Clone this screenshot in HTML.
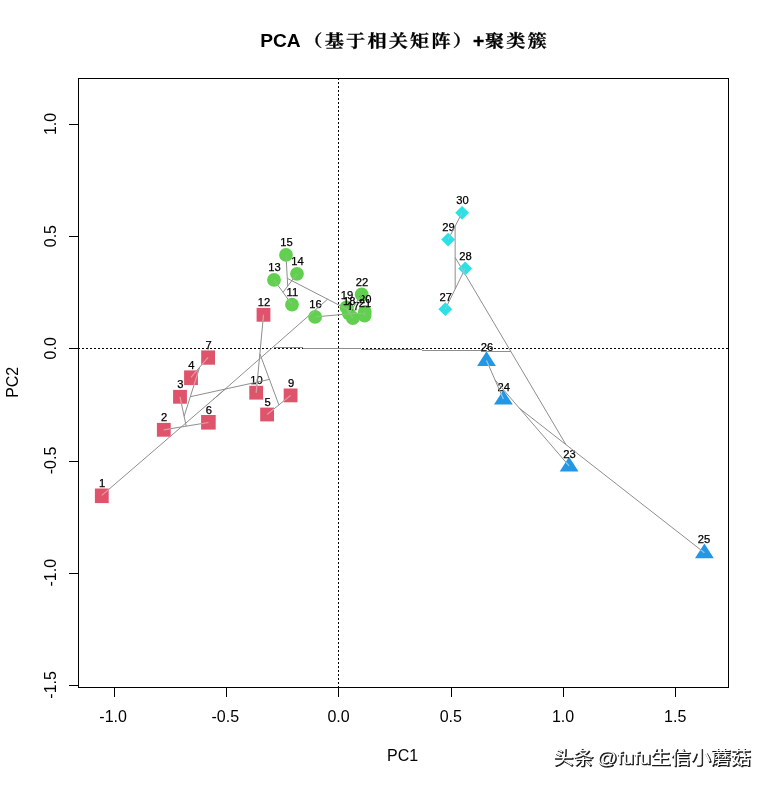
<!DOCTYPE html>
<html lang="zh"><head><meta charset="utf-8"><title>PCA</title>
<style>html,body{margin:0;padding:0;background:#fff;overflow:hidden;width:769px;height:785px}svg{display:block;will-change:transform;-webkit-font-smoothing:antialiased}text{font-family:"Liberation Sans","Noto Sans CJK SC",sans-serif;fill:#000}.ax{font-size:16px}.lb{font-size:11.2px;text-anchor:middle;stroke:#000;stroke-width:.25px}.tt{font-size:19.2px;font-weight:bold}.cj{font-family:"Liberation Sans","Noto Serif CJK SC",serif;font-weight:bold;font-size:19.2px;text-anchor:middle;stroke:#000;stroke-width:.3px}</style></head><body>
<svg width="769" height="785" viewBox="0 0 769 785" role="img" aria-label="PCA （基于相关矩阵）+聚类簇">
<rect width="769" height="785" fill="#fff"/>
<g id="title">
<text class="tt" x="260.2" y="47">PCA </text>
<g transform="translate(0 40.4) scale(1 0.86) translate(0 -40.4)">
<text class="cj" x="312.9 334.3 355.7 377.0 398.3 419.7 441.0 462.3" y="47.5">（基于相关矩阵）</text>
</g>
<text class="tt" x="478.6" y="47.3" text-anchor="middle" style="stroke:#000;stroke-width:.4px">+</text>
<g transform="translate(0 40.4) scale(1 0.86) translate(0 -40.4)">
<text class="cj" x="494.6 515.9 537.2" y="47.5">聚类簇</text>
</g>
</g>
<g stroke="#000" stroke-width="1" stroke-dasharray="2 2" shape-rendering="crispEdges">
<line x1="78" y1="348.5" x2="728.5" y2="348.5"/>
<line x1="338.5" y1="78" x2="338.5" y2="687.5"/>
</g>
<defs>
<clipPath id="cp-sq">
<rect x="94.9" y="488.5" width="13.8" height="14.6"/>
<rect x="156.9" y="422.9" width="13.8" height="13.8"/>
<rect x="173.1" y="389.9" width="13.8" height="13.8"/>
<rect x="184.1" y="370.4" width="13.8" height="14.7"/>
<rect x="260.2" y="407.6" width="13.8" height="13.8"/>
<rect x="201.1" y="415.0" width="14.6" height="14.6"/>
<rect x="201.2" y="350.4" width="13.8" height="14.3"/>
<rect x="283.7" y="388.5" width="13.8" height="13.8"/>
<rect x="249.3" y="385.8" width="13.8" height="13.8"/>
<rect x="256.6" y="307.9" width="13.8" height="13.8"/>
</clipPath>
<clipPath id="cp-ci">
<circle cx="292.0" cy="304.7" r="6.9"/>
<circle cx="274.0" cy="279.9" r="6.9"/>
<circle cx="297.0" cy="273.8" r="6.9"/>
<circle cx="286.0" cy="254.9" r="6.9"/>
<circle cx="315.1" cy="316.9" r="6.9"/>
<circle cx="352.9" cy="318.2" r="6.9"/>
<circle cx="348.8" cy="313.3" r="6.9"/>
<circle cx="346.5" cy="307.4" r="6.9"/>
<circle cx="364.8" cy="311.9" r="6.9"/>
<circle cx="364.6" cy="315.7" r="6.9"/>
<circle cx="361.7" cy="294.5" r="6.9"/>
</clipPath>
<clipPath id="cp-tr">
<polygon points="569.1,456.8 578.5,471.4 559.7,471.4"/>
<polygon points="503.4,390.0 512.8,404.6 494.0,404.6"/>
<polygon points="704.4,543.6 713.8,558.2 695.0,558.2"/>
<polygon points="486.5,351.3 495.9,365.9 477.1,365.9"/>
</clipPath>
<clipPath id="cp-di">
<polygon points="438.4,309.2 445.3,302.3 452.2,309.2 445.3,316.1"/>
<polygon points="458.3,268.5 465.2,261.6 472.1,268.5 465.2,275.4"/>
<polygon points="441.2,239.6 448.1,232.7 455.0,239.6 448.1,246.5"/>
<polygon points="455.2,212.8 462.1,205.9 469.0,212.8 462.1,219.7"/>
</clipPath>
</defs>
<g id="points">
<rect x="94.9" y="488.5" width="13.8" height="14.6" fill="#DF536B"/>
<rect x="156.9" y="422.9" width="13.8" height="13.8" fill="#DF536B"/>
<rect x="173.1" y="389.9" width="13.8" height="13.8" fill="#DF536B"/>
<rect x="184.1" y="370.4" width="13.8" height="14.7" fill="#DF536B"/>
<rect x="260.2" y="407.6" width="13.8" height="13.8" fill="#DF536B"/>
<rect x="201.1" y="415.0" width="14.6" height="14.6" fill="#DF536B"/>
<rect x="201.2" y="350.4" width="13.8" height="14.3" fill="#DF536B"/>
<rect x="283.7" y="388.5" width="13.8" height="13.8" fill="#DF536B"/>
<rect x="249.3" y="385.8" width="13.8" height="13.8" fill="#DF536B"/>
<circle cx="292.0" cy="304.7" r="6.9" fill="#61D04F"/>
<rect x="256.6" y="307.9" width="13.8" height="13.8" fill="#DF536B"/>
<circle cx="274.0" cy="279.9" r="6.9" fill="#61D04F"/>
<circle cx="297.0" cy="273.8" r="6.9" fill="#61D04F"/>
<circle cx="286.0" cy="254.9" r="6.9" fill="#61D04F"/>
<circle cx="315.1" cy="316.9" r="6.9" fill="#61D04F"/>
<circle cx="352.9" cy="318.2" r="6.9" fill="#61D04F"/>
<circle cx="348.8" cy="313.3" r="6.9" fill="#61D04F"/>
<circle cx="346.5" cy="307.4" r="6.9" fill="#61D04F"/>
<circle cx="364.8" cy="311.9" r="6.9" fill="#61D04F"/>
<circle cx="364.6" cy="315.7" r="6.9" fill="#61D04F"/>
<circle cx="361.7" cy="294.5" r="6.9" fill="#61D04F"/>
<polygon points="569.1,456.8 578.5,471.4 559.7,471.4" fill="#2297E6"/>
<polygon points="503.4,390.0 512.8,404.6 494.0,404.6" fill="#2297E6"/>
<polygon points="704.4,543.6 713.8,558.2 695.0,558.2" fill="#2297E6"/>
<polygon points="486.5,351.3 495.9,365.9 477.1,365.9" fill="#2297E6"/>
<polygon points="438.4,309.2 445.3,302.3 452.2,309.2 445.3,316.1" fill="#28E2E5"/>
<polygon points="458.3,268.5 465.2,261.6 472.1,268.5 465.2,275.4" fill="#28E2E5"/>
<polygon points="441.2,239.6 448.1,232.7 455.0,239.6 448.1,246.5" fill="#28E2E5"/>
<polygon points="455.2,212.8 462.1,205.9 469.0,212.8 462.1,219.7" fill="#28E2E5"/>
</g>
<g id="labels">
<text class="lb" x="102.2" y="486.7">1</text>
<text class="lb" x="164.2" y="421.1">2</text>
<text class="lb" x="180.4" y="388.1">3</text>
<text class="lb" x="191.4" y="368.6">4</text>
<text class="lb" x="267.5" y="405.8">5</text>
<text class="lb" x="208.9" y="413.8">6</text>
<text class="lb" x="208.5" y="348.6">7</text>
<text class="lb" x="291.0" y="386.7">9</text>
<text class="lb" x="256.6" y="384.0">10</text>
<text class="lb" x="292.4" y="296.0">11</text>
<text class="lb" x="263.9" y="306.1">12</text>
<text class="lb" x="274.4" y="271.2">13</text>
<text class="lb" x="297.4" y="265.1">14</text>
<text class="lb" x="286.4" y="246.2">15</text>
<text class="lb" x="315.5" y="308.2">16</text>
<text class="lb" x="353.3" y="309.5">17</text>
<text class="lb" x="349.2" y="304.6">18</text>
<text class="lb" x="346.9" y="298.7">19</text>
<text class="lb" x="365.2" y="303.2">20</text>
<text class="lb" x="365.0" y="307.0">21</text>
<text class="lb" x="362.1" y="285.8">22</text>
<text class="lb" x="569.5" y="457.7">23</text>
<text class="lb" x="503.8" y="390.9">24</text>
<text class="lb" x="703.9" y="543.3">25</text>
<text class="lb" x="486.9" y="351.3">26</text>
<text class="lb" x="445.7" y="300.5">27</text>
<text class="lb" x="465.6" y="259.8">28</text>
<text class="lb" x="448.5" y="230.9">29</text>
<text class="lb" x="462.5" y="204.1">30</text>
</g>
<g id="tree" stroke="#8e8e8e" stroke-width="1" fill="none">
<line x1="163.8" y1="429.8" x2="208.5" y2="422.5"/><line x1="191.0" y1="377.3" x2="208.1" y2="357.3"/><line x1="180.0" y1="396.8" x2="186.2" y2="426.1"/><line x1="199.6" y1="367.3" x2="184.1" y2="416.4"/><line x1="267.1" y1="414.5" x2="290.6" y2="395.4"/><line x1="256.2" y1="392.7" x2="263.5" y2="314.8"/><line x1="278.9" y1="404.9" x2="259.9" y2="353.8"/><line x1="190.3" y1="396.7" x2="269.4" y2="379.4"/><line x1="101.8" y1="495.4" x2="225.4" y2="389.0"/><line x1="292.0" y1="304.7" x2="274.0" y2="279.9"/><line x1="297.0" y1="273.8" x2="283.0" y2="292.3"/><line x1="286.0" y1="254.9" x2="287.7" y2="286.1"/><line x1="364.8" y1="311.9" x2="364.6" y2="315.7"/><line x1="348.8" y1="313.3" x2="346.5" y2="307.4"/><line x1="352.9" y1="318.2" x2="347.6" y2="310.4"/><line x1="349.4" y1="313.0" x2="364.7" y2="313.8"/><line x1="315.1" y1="316.9" x2="355.5" y2="313.3"/><line x1="361.7" y1="294.5" x2="348.8" y2="313.9"/><line x1="287.2" y1="278.3" x2="350.6" y2="311.1"/><line x1="213.1" y1="399.6" x2="327.6" y2="299.2"/><line x1="503.4" y1="399.1" x2="486.5" y2="360.4"/><line x1="569.1" y1="465.9" x2="494.9" y2="379.8"/><line x1="704.4" y1="552.7" x2="519.7" y2="408.5"/><line x1="448.1" y1="239.6" x2="462.1" y2="212.8"/><line x1="445.3" y1="309.2" x2="465.2" y2="268.5"/><line x1="455.1" y1="226.2" x2="455.2" y2="288.9"/><line x1="455.2" y1="257.5" x2="565.9" y2="444.5"/>
</g>
<g id="tree-root" stroke="#8e8e8e" stroke-width="1" fill="none" shape-rendering="crispEdges">
<path d="M273.5 347.5H303M303 348.5H361M361 349.5H421.5M421.5 350.5H481M481 351.5H510.5"/>
</g>
<g clip-path="url(#cp-sq)" stroke="#EC95A5" stroke-width="1.2" fill="none">
<line x1="163.8" y1="429.8" x2="208.5" y2="422.5"/><line x1="191.0" y1="377.3" x2="208.1" y2="357.3"/><line x1="180.0" y1="396.8" x2="186.2" y2="426.1"/><line x1="199.6" y1="367.3" x2="184.1" y2="416.4"/><line x1="267.1" y1="414.5" x2="290.6" y2="395.4"/><line x1="256.2" y1="392.7" x2="263.5" y2="314.8"/><line x1="278.9" y1="404.9" x2="259.9" y2="353.8"/><line x1="190.3" y1="396.7" x2="269.4" y2="379.4"/><line x1="101.8" y1="495.4" x2="225.4" y2="389.0"/><line x1="292.0" y1="304.7" x2="274.0" y2="279.9"/><line x1="297.0" y1="273.8" x2="283.0" y2="292.3"/><line x1="286.0" y1="254.9" x2="287.7" y2="286.1"/><line x1="364.8" y1="311.9" x2="364.6" y2="315.7"/><line x1="348.8" y1="313.3" x2="346.5" y2="307.4"/><line x1="352.9" y1="318.2" x2="347.6" y2="310.4"/><line x1="349.4" y1="313.0" x2="364.7" y2="313.8"/><line x1="315.1" y1="316.9" x2="355.5" y2="313.3"/><line x1="361.7" y1="294.5" x2="348.8" y2="313.9"/><line x1="287.2" y1="278.3" x2="350.6" y2="311.1"/><line x1="213.1" y1="399.6" x2="327.6" y2="299.2"/><line x1="503.4" y1="399.1" x2="486.5" y2="360.4"/><line x1="569.1" y1="465.9" x2="494.9" y2="379.8"/><line x1="704.4" y1="552.7" x2="519.7" y2="408.5"/><line x1="448.1" y1="239.6" x2="462.1" y2="212.8"/><line x1="445.3" y1="309.2" x2="465.2" y2="268.5"/><line x1="455.1" y1="226.2" x2="455.2" y2="288.9"/><line x1="455.2" y1="257.5" x2="565.9" y2="444.5"/><line x1="273.0" y1="347.6" x2="510.5" y2="351.6"/>
</g>
<g clip-path="url(#cp-ci)" stroke="#7ED070" stroke-width="1.2" fill="none">
<line x1="163.8" y1="429.8" x2="208.5" y2="422.5"/><line x1="191.0" y1="377.3" x2="208.1" y2="357.3"/><line x1="180.0" y1="396.8" x2="186.2" y2="426.1"/><line x1="199.6" y1="367.3" x2="184.1" y2="416.4"/><line x1="267.1" y1="414.5" x2="290.6" y2="395.4"/><line x1="256.2" y1="392.7" x2="263.5" y2="314.8"/><line x1="278.9" y1="404.9" x2="259.9" y2="353.8"/><line x1="190.3" y1="396.7" x2="269.4" y2="379.4"/><line x1="101.8" y1="495.4" x2="225.4" y2="389.0"/><line x1="292.0" y1="304.7" x2="274.0" y2="279.9"/><line x1="297.0" y1="273.8" x2="283.0" y2="292.3"/><line x1="286.0" y1="254.9" x2="287.7" y2="286.1"/><line x1="364.8" y1="311.9" x2="364.6" y2="315.7"/><line x1="348.8" y1="313.3" x2="346.5" y2="307.4"/><line x1="352.9" y1="318.2" x2="347.6" y2="310.4"/><line x1="349.4" y1="313.0" x2="364.7" y2="313.8"/><line x1="315.1" y1="316.9" x2="355.5" y2="313.3"/><line x1="361.7" y1="294.5" x2="348.8" y2="313.9"/><line x1="287.2" y1="278.3" x2="350.6" y2="311.1"/><line x1="213.1" y1="399.6" x2="327.6" y2="299.2"/><line x1="503.4" y1="399.1" x2="486.5" y2="360.4"/><line x1="569.1" y1="465.9" x2="494.9" y2="379.8"/><line x1="704.4" y1="552.7" x2="519.7" y2="408.5"/><line x1="448.1" y1="239.6" x2="462.1" y2="212.8"/><line x1="445.3" y1="309.2" x2="465.2" y2="268.5"/><line x1="455.1" y1="226.2" x2="455.2" y2="288.9"/><line x1="455.2" y1="257.5" x2="565.9" y2="444.5"/><line x1="273.0" y1="347.6" x2="510.5" y2="351.6"/>
</g>
<g clip-path="url(#cp-tr)" stroke="#8CC6EF" stroke-width="1.2" fill="none">
<line x1="163.8" y1="429.8" x2="208.5" y2="422.5"/><line x1="191.0" y1="377.3" x2="208.1" y2="357.3"/><line x1="180.0" y1="396.8" x2="186.2" y2="426.1"/><line x1="199.6" y1="367.3" x2="184.1" y2="416.4"/><line x1="267.1" y1="414.5" x2="290.6" y2="395.4"/><line x1="256.2" y1="392.7" x2="263.5" y2="314.8"/><line x1="278.9" y1="404.9" x2="259.9" y2="353.8"/><line x1="190.3" y1="396.7" x2="269.4" y2="379.4"/><line x1="101.8" y1="495.4" x2="225.4" y2="389.0"/><line x1="292.0" y1="304.7" x2="274.0" y2="279.9"/><line x1="297.0" y1="273.8" x2="283.0" y2="292.3"/><line x1="286.0" y1="254.9" x2="287.7" y2="286.1"/><line x1="364.8" y1="311.9" x2="364.6" y2="315.7"/><line x1="348.8" y1="313.3" x2="346.5" y2="307.4"/><line x1="352.9" y1="318.2" x2="347.6" y2="310.4"/><line x1="349.4" y1="313.0" x2="364.7" y2="313.8"/><line x1="315.1" y1="316.9" x2="355.5" y2="313.3"/><line x1="361.7" y1="294.5" x2="348.8" y2="313.9"/><line x1="287.2" y1="278.3" x2="350.6" y2="311.1"/><line x1="213.1" y1="399.6" x2="327.6" y2="299.2"/><line x1="503.4" y1="399.1" x2="486.5" y2="360.4"/><line x1="569.1" y1="465.9" x2="494.9" y2="379.8"/><line x1="704.4" y1="552.7" x2="519.7" y2="408.5"/><line x1="448.1" y1="239.6" x2="462.1" y2="212.8"/><line x1="445.3" y1="309.2" x2="465.2" y2="268.5"/><line x1="455.1" y1="226.2" x2="455.2" y2="288.9"/><line x1="455.2" y1="257.5" x2="565.9" y2="444.5"/><line x1="273.0" y1="347.6" x2="510.5" y2="351.6"/>
</g>
<g clip-path="url(#cp-di)" stroke="#74DADD" stroke-width="1.2" fill="none">
<line x1="163.8" y1="429.8" x2="208.5" y2="422.5"/><line x1="191.0" y1="377.3" x2="208.1" y2="357.3"/><line x1="180.0" y1="396.8" x2="186.2" y2="426.1"/><line x1="199.6" y1="367.3" x2="184.1" y2="416.4"/><line x1="267.1" y1="414.5" x2="290.6" y2="395.4"/><line x1="256.2" y1="392.7" x2="263.5" y2="314.8"/><line x1="278.9" y1="404.9" x2="259.9" y2="353.8"/><line x1="190.3" y1="396.7" x2="269.4" y2="379.4"/><line x1="101.8" y1="495.4" x2="225.4" y2="389.0"/><line x1="292.0" y1="304.7" x2="274.0" y2="279.9"/><line x1="297.0" y1="273.8" x2="283.0" y2="292.3"/><line x1="286.0" y1="254.9" x2="287.7" y2="286.1"/><line x1="364.8" y1="311.9" x2="364.6" y2="315.7"/><line x1="348.8" y1="313.3" x2="346.5" y2="307.4"/><line x1="352.9" y1="318.2" x2="347.6" y2="310.4"/><line x1="349.4" y1="313.0" x2="364.7" y2="313.8"/><line x1="315.1" y1="316.9" x2="355.5" y2="313.3"/><line x1="361.7" y1="294.5" x2="348.8" y2="313.9"/><line x1="287.2" y1="278.3" x2="350.6" y2="311.1"/><line x1="213.1" y1="399.6" x2="327.6" y2="299.2"/><line x1="503.4" y1="399.1" x2="486.5" y2="360.4"/><line x1="569.1" y1="465.9" x2="494.9" y2="379.8"/><line x1="704.4" y1="552.7" x2="519.7" y2="408.5"/><line x1="448.1" y1="239.6" x2="462.1" y2="212.8"/><line x1="445.3" y1="309.2" x2="465.2" y2="268.5"/><line x1="455.1" y1="226.2" x2="455.2" y2="288.9"/><line x1="455.2" y1="257.5" x2="565.9" y2="444.5"/><line x1="273.0" y1="347.6" x2="510.5" y2="351.6"/>
</g>
<g stroke="#000" stroke-width="1" fill="none" shape-rendering="crispEdges">
<rect x="78.5" y="78.5" width="650.0" height="609.0"/>
<line x1="114.5" y1="687.5" x2="114.5" y2="697.0"/>
<line x1="226.5" y1="687.5" x2="226.5" y2="697.0"/>
<line x1="338.5" y1="687.5" x2="338.5" y2="697.0"/>
<line x1="451.5" y1="687.5" x2="451.5" y2="697.0"/>
<line x1="563.5" y1="687.5" x2="563.5" y2="697.0"/>
<line x1="675.5" y1="687.5" x2="675.5" y2="697.0"/>
<line x1="78.5" y1="685.5" x2="69.0" y2="685.5"/>
<line x1="78.5" y1="573.5" x2="69.0" y2="573.5"/>
<line x1="78.5" y1="461.5" x2="69.0" y2="461.5"/>
<line x1="78.5" y1="348.5" x2="69.0" y2="348.5"/>
<line x1="78.5" y1="236.5" x2="69.0" y2="236.5"/>
<line x1="78.5" y1="124.5" x2="69.0" y2="124.5"/>
</g>
<g id="ticks">
<text class="ax" text-anchor="middle" x="113.1" y="721.6">-1.0</text>
<text class="ax" text-anchor="middle" x="225.3" y="721.6">-0.5</text>
<text class="ax" text-anchor="middle" x="338.6" y="721.6">0.0</text>
<text class="ax" text-anchor="middle" x="450.8" y="721.6">0.5</text>
<text class="ax" text-anchor="middle" x="563.0" y="721.6">1.0</text>
<text class="ax" text-anchor="middle" x="675.2" y="721.6">1.5</text>
<text class="ax" text-anchor="middle" transform="translate(56.3 684.9) rotate(-90)">-1.5</text>
<text class="ax" text-anchor="middle" transform="translate(56.3 572.7) rotate(-90)">-1.0</text>
<text class="ax" text-anchor="middle" transform="translate(56.3 460.5) rotate(-90)">-0.5</text>
<text class="ax" text-anchor="middle" transform="translate(56.3 348.3) rotate(-90)">0.0</text>
<text class="ax" text-anchor="middle" transform="translate(56.3 236.1) rotate(-90)">0.5</text>
<text class="ax" text-anchor="middle" transform="translate(56.3 123.9) rotate(-90)">1.0</text>
<text class="ax" text-anchor="middle" x="402.6" y="760.7">PC1</text>
<text class="ax" text-anchor="middle" transform="translate(18.2 382.3) rotate(-90)">PC2</text>
</g>
<g id="wm" style="font-size:20.05px;word-spacing:-2px" transform="translate(0 749) scale(1 0.88) translate(0 -749)">
<text x="554.2" y="767.6" style="fill:#181818;stroke:#181818;stroke-width:.85;stroke-linejoin:round">头条 @fufu生信小蘑菇</text>
<text x="553.2" y="766.5" style="fill:#fff">头条 @fufu生信小蘑菇</text>
</g>
</svg></body></html>
